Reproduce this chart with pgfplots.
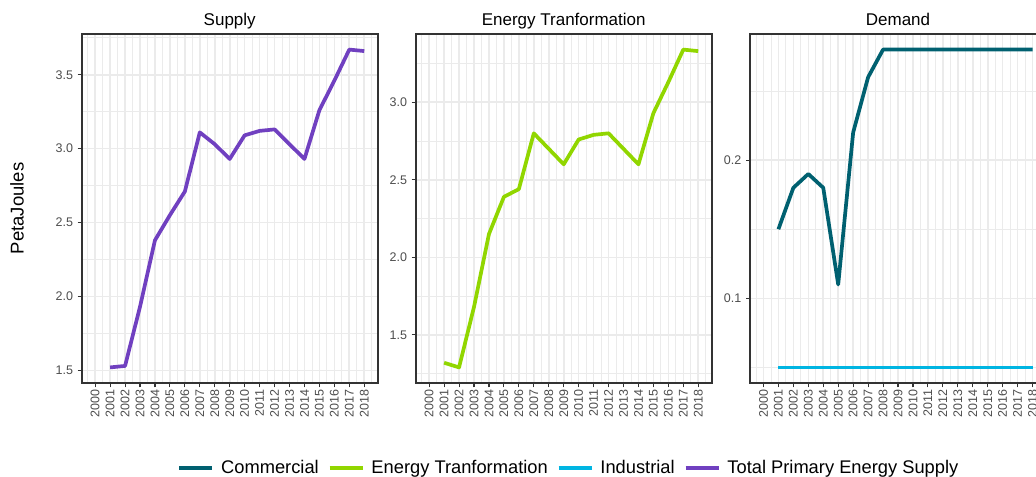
\documentclass[border=0pt]{standalone}
\usepackage{fontspec}
\setmainfont{Liberation Sans}
\usepackage{pgfplots}
\pgfplotsset{compat=1.18}
\definecolor{commercial}{RGB}{0,96,112}
\definecolor{energytr}{RGB}{145,214,0}
\definecolor{industrial}{RGB}{0,181,226}
\definecolor{tpes}{RGB}{112,64,192}
\definecolor{gridgrey}{HTML}{EBEBEB}
\definecolor{bordergrey}{HTML}{333333}
\definecolor{ticklab}{HTML}{4D4D4D}
\pgfplotsset{
  panel/.style={
    scale only axis, width=296bp, height=349.6bp,
    anchor=south west,
    xmin=1999.1, xmax=2018.9,
    xtick={2000,2001,2002,2003,2004,2005,2006,2007,2008,2009,2010,2011,2012,2013,2014,2015,2016,2017,2018},
    xticklabels={2000,2001,2002,2003,2004,2005,2006,2007,2008,2009,2010,2011,2012,2013,2014,2015,2016,2017,2018},
    minor xtick={1999.5,2000.5,2001.5,2002.5,2003.5,2004.5,2005.5,2006.5,2007.5,2008.5,2009.5,2010.5,2011.5,2012.5,2013.5,2014.5,2015.5,2016.5,2017.5,2018.5},
    grid=both,
    major grid style={draw=gridgrey, line width=1.6bp},
    minor grid style={draw=gridgrey, line width=0.8bp},
    axis line style={draw=bordergrey, line width=2bp},
    tick align=outside, tick pos=left,
    major tick length=4bp, minor tick length=0pt,
    every tick/.style={draw=bordergrey, line width=1.1bp},
    xticklabel style={rotate=90, anchor=east, inner sep=2.5bp, font=\fontsize{12.5bp}{14bp}\selectfont, text=ticklab},
    yticklabel style={anchor=east, inner sep=4.5bp, font=\fontsize{12.5bp}{14bp}\selectfont, text=ticklab},
    title style={at={(0.5,1)}, anchor=base, yshift=2.5bp, inner sep=0pt, font=\fontsize{17bp}{20bp}\selectfont},
    every axis plot/.append style={line width=3.7bp, line join=round, no markers},
  }
}
\begin{document}
\begin{tikzpicture}
\useasboundingbox (0,0) rectangle (1036bp,477bp);
\begin{scope}
\clip (0,0) rectangle (1036bp,477bp);
% Supply
\begin{axis}[panel, at={(81.7bp,93.7bp)}, title={Supply},
  ymin=1.4125, ymax=3.7775,
  ytick={1.5,2.0,2.5,3.0,3.5}, yticklabels={1.5,2.0,2.5,3.0,3.5},
  minor ytick={1.75,2.25,2.75,3.25,3.75},
  legend columns=4,
  legend style={at={(0.3235,-0.2414)}, anchor=west, draw=none, fill=none,
    inner sep=0pt, outer sep=0pt, nodes={inner sep=0pt},
    font=\fontsize{18.3bp}{22bp}\selectfont,
    /tikz/every odd column/.append style={column sep=7bp},
    /tikz/every even column/.append style={column sep=9bp}},
  legend cell align=left,
  legend image code/.code={\draw[#1, line width=3.7bp] (0bp,0bp) -- (33bp,0bp);},
]
\addplot[tpes, forget plot] coordinates {
(2001,1.52) (2002,1.53) (2003,1.93) (2004,2.38) (2005,2.55) (2006,2.71)
(2007,3.11) (2008,3.03) (2009,2.93) (2010,3.09) (2011,3.12) (2012,3.13)
(2013,3.03) (2014,2.93) (2015,3.26) (2016,3.46) (2017,3.67) (2018,3.66)};
\addlegendimage{commercial}
\addlegendentry{Commercial}
\addlegendimage{energytr}
\addlegendentry{Energy Tranformation}
\addlegendimage{industrial}
\addlegendentry{Industrial}
\addlegendimage{tpes}
\addlegendentry{Total Primary Energy Supply}
\end{axis}
% Energy Tranformation
\begin{axis}[panel, at={(415.7bp,93.7bp)}, title={Energy Tranformation},
  ymin=1.1875, ymax=3.4425,
  ytick={1.5,2.0,2.5,3.0}, yticklabels={1.5,2.0,2.5,3.0},
  minor ytick={1.25,1.75,2.25,2.75,3.25},
]
\addplot[energytr] coordinates {
(2001,1.32) (2002,1.29) (2003,1.68) (2004,2.15) (2005,2.39) (2006,2.44)
(2007,2.80) (2008,2.70) (2009,2.60) (2010,2.76) (2011,2.79) (2012,2.80)
(2013,2.70) (2014,2.60) (2015,2.93) (2016,3.13) (2017,3.34) (2018,3.33)};
\end{axis}
% Demand
\begin{axis}[panel, at={(750bp,93.7bp)}, title={Demand},
  ymin=0.0385, ymax=0.2915,
  ytick={0.1,0.2}, yticklabels={0.1,0.2},
  minor ytick={0.05,0.15,0.25},
]
\addplot[commercial] coordinates {
(2001,0.15) (2002,0.18) (2003,0.19) (2004,0.18) (2005,0.11) (2006,0.22)
(2007,0.26) (2008,0.28) (2009,0.28) (2010,0.28) (2011,0.28) (2012,0.28)
(2013,0.28) (2014,0.28) (2015,0.28) (2016,0.28) (2017,0.28) (2018,0.28)};
\addplot[industrial] coordinates {
(2001,0.05) (2002,0.05) (2003,0.05) (2004,0.05) (2005,0.05) (2006,0.05)
(2007,0.05) (2008,0.05) (2009,0.05) (2010,0.05) (2011,0.05) (2012,0.05)
(2013,0.05) (2014,0.05) (2015,0.05) (2016,0.05) (2017,0.05) (2018,0.05)};
\end{axis}
\node[rotate=90, anchor=base, inner sep=0pt, font=\fontsize{18.5bp}{22bp}\selectfont] at (23.5bp,268.5bp) {PetaJoules};
\end{scope}
\end{tikzpicture}
\end{document}
